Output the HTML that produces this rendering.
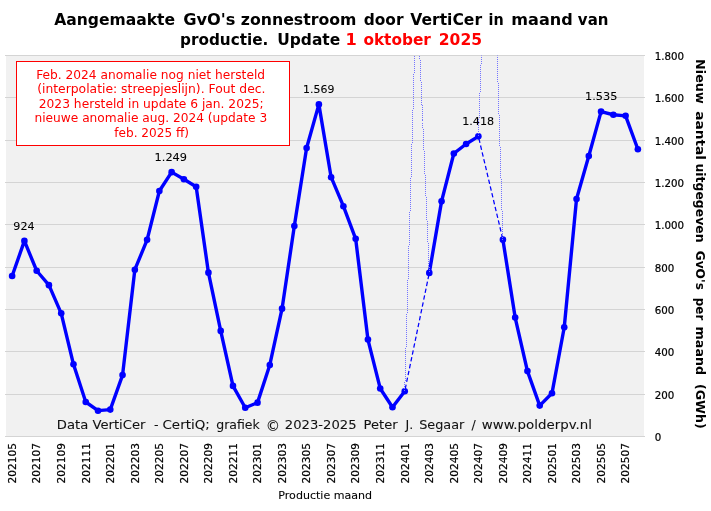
<!DOCTYPE html>
<html><head><meta charset="utf-8"><title>GvO zonnestroom</title><style>
html,body{margin:0;padding:0;background:#fff;}
body{width:711px;height:511px;overflow:hidden;}
svg{display:block;}
text{font-family:'DejaVu Sans', 'Liberation Sans', sans-serif;}
.s{stroke-width:0.3px;}
</style></head><body>
<svg width="711" height="511" viewBox="0 0 711 511">
<g id="chart">
<rect x="6" y="55" width="638" height="381" fill="#f1f1f1"/>
<line x1="5" x2="645" y1="436.5" y2="436.5" stroke="#d4d4d4" stroke-width="1"/>
<line x1="5" x2="645" y1="394.5" y2="394.5" stroke="#d4d4d4" stroke-width="1"/>
<line x1="5" x2="645" y1="351.5" y2="351.5" stroke="#d4d4d4" stroke-width="1"/>
<line x1="5" x2="645" y1="309.5" y2="309.5" stroke="#d4d4d4" stroke-width="1"/>
<line x1="5" x2="645" y1="267.5" y2="267.5" stroke="#d4d4d4" stroke-width="1"/>
<line x1="5" x2="645" y1="224.5" y2="224.5" stroke="#d4d4d4" stroke-width="1"/>
<line x1="5" x2="645" y1="182.5" y2="182.5" stroke="#d4d4d4" stroke-width="1"/>
<line x1="5" x2="645" y1="140.5" y2="140.5" stroke="#d4d4d4" stroke-width="1"/>
<line x1="5" x2="645" y1="97.5" y2="97.5" stroke="#d4d4d4" stroke-width="1"/>
<line x1="5" x2="645" y1="55.5" y2="55.5" stroke="#d4d4d4" stroke-width="1"/>
<defs><clipPath id="pc"><rect x="6.0" y="55.5" width="638.0" height="381.0"/></clipPath></defs>
<line x1="404.75" y1="391.20" x2="429.29" y2="272.88" stroke="#0000ff" stroke-width="1.25" stroke-dasharray="4.4,2.6" stroke-dashoffset="-2.4"/>
<line x1="478.37" y1="136.36" x2="502.90" y2="239.65" stroke="#0000ff" stroke-width="1.25" stroke-dasharray="4.4,2.6" stroke-dashoffset="-2.4"/>
<polyline points="12.13,276.06 24.40,240.92 36.67,270.76 48.94,285.16 61.21,313.31 73.48,364.32 85.75,402.00 98.02,410.68 110.29,409.62 122.56,375.12 134.83,269.71 147.10,239.86 159.37,190.97 171.63,172.13 183.90,179.32 196.17,186.73 208.44,272.67 220.71,330.88 232.98,385.91 245.25,407.71 257.52,402.63 269.79,364.96 282.06,308.65 294.33,226.10 306.60,148.00 318.87,104.39 331.13,177.21 343.40,206.21 355.67,238.80 367.94,339.56 380.21,388.45 392.48,407.29 404.75,391.20" fill="none" stroke="#0000ff" stroke-width="3.4" stroke-linejoin="round" stroke-linecap="round"/>
<polyline points="429.29,272.88 441.56,201.34 453.83,153.50 466.10,143.98 478.37,136.36" fill="none" stroke="#0000ff" stroke-width="3.4" stroke-linejoin="round" stroke-linecap="round"/>
<polyline points="502.90,239.65 515.17,317.54 527.44,371.10 539.71,405.60 551.98,393.32 564.25,327.28 576.52,199.01 588.79,156.04 601.06,111.59 613.33,114.77 625.60,115.82 637.87,149.27" fill="none" stroke="#0000ff" stroke-width="3.4" stroke-linejoin="round" stroke-linecap="round"/>
<circle cx="12.13" cy="276.06" r="3.3" fill="#0000ff"/>
<circle cx="24.40" cy="240.92" r="3.3" fill="#0000ff"/>
<circle cx="36.67" cy="270.76" r="3.3" fill="#0000ff"/>
<circle cx="48.94" cy="285.16" r="3.3" fill="#0000ff"/>
<circle cx="61.21" cy="313.31" r="3.3" fill="#0000ff"/>
<circle cx="73.48" cy="364.32" r="3.3" fill="#0000ff"/>
<circle cx="85.75" cy="402.00" r="3.3" fill="#0000ff"/>
<circle cx="98.02" cy="410.68" r="3.3" fill="#0000ff"/>
<circle cx="110.29" cy="409.62" r="3.3" fill="#0000ff"/>
<circle cx="122.56" cy="375.12" r="3.3" fill="#0000ff"/>
<circle cx="134.83" cy="269.71" r="3.3" fill="#0000ff"/>
<circle cx="147.10" cy="239.86" r="3.3" fill="#0000ff"/>
<circle cx="159.37" cy="190.97" r="3.3" fill="#0000ff"/>
<circle cx="171.63" cy="172.13" r="3.3" fill="#0000ff"/>
<circle cx="183.90" cy="179.32" r="3.3" fill="#0000ff"/>
<circle cx="196.17" cy="186.73" r="3.3" fill="#0000ff"/>
<circle cx="208.44" cy="272.67" r="3.3" fill="#0000ff"/>
<circle cx="220.71" cy="330.88" r="3.3" fill="#0000ff"/>
<circle cx="232.98" cy="385.91" r="3.3" fill="#0000ff"/>
<circle cx="245.25" cy="407.71" r="3.3" fill="#0000ff"/>
<circle cx="257.52" cy="402.63" r="3.3" fill="#0000ff"/>
<circle cx="269.79" cy="364.96" r="3.3" fill="#0000ff"/>
<circle cx="282.06" cy="308.65" r="3.3" fill="#0000ff"/>
<circle cx="294.33" cy="226.10" r="3.3" fill="#0000ff"/>
<circle cx="306.60" cy="148.00" r="3.3" fill="#0000ff"/>
<circle cx="318.87" cy="104.39" r="3.3" fill="#0000ff"/>
<circle cx="331.13" cy="177.21" r="3.3" fill="#0000ff"/>
<circle cx="343.40" cy="206.21" r="3.3" fill="#0000ff"/>
<circle cx="355.67" cy="238.80" r="3.3" fill="#0000ff"/>
<circle cx="367.94" cy="339.56" r="3.3" fill="#0000ff"/>
<circle cx="380.21" cy="388.45" r="3.3" fill="#0000ff"/>
<circle cx="392.48" cy="407.29" r="3.3" fill="#0000ff"/>
<circle cx="404.75" cy="391.20" r="3.3" fill="#0000ff"/>
<circle cx="429.29" cy="272.88" r="3.3" fill="#0000ff"/>
<circle cx="441.56" cy="201.34" r="3.3" fill="#0000ff"/>
<circle cx="453.83" cy="153.50" r="3.3" fill="#0000ff"/>
<circle cx="466.10" cy="143.98" r="3.3" fill="#0000ff"/>
<circle cx="478.37" cy="136.36" r="3.3" fill="#0000ff"/>
<circle cx="502.90" cy="239.65" r="3.3" fill="#0000ff"/>
<circle cx="515.17" cy="317.54" r="3.3" fill="#0000ff"/>
<circle cx="527.44" cy="371.10" r="3.3" fill="#0000ff"/>
<circle cx="539.71" cy="405.60" r="3.3" fill="#0000ff"/>
<circle cx="551.98" cy="393.32" r="3.3" fill="#0000ff"/>
<circle cx="564.25" cy="327.28" r="3.3" fill="#0000ff"/>
<circle cx="576.52" cy="199.01" r="3.3" fill="#0000ff"/>
<circle cx="588.79" cy="156.04" r="3.3" fill="#0000ff"/>
<circle cx="601.06" cy="111.59" r="3.3" fill="#0000ff"/>
<circle cx="613.33" cy="114.77" r="3.3" fill="#0000ff"/>
<circle cx="625.60" cy="115.82" r="3.3" fill="#0000ff"/>
<circle cx="637.87" cy="149.27" r="3.3" fill="#0000ff"/>
<rect x="16.5" y="61.5" width="273" height="84" fill="#fff" stroke="#ff0000" stroke-width="1"/>
</g>
<text id="ta0" x="54.20" y="25.00" font-size="16.200" font-weight="bold" fill="#000" textLength="120.93" lengthAdjust="spacingAndGlyphs">Aangemaakte</text>
<text id="ta1" x="183.19" y="25.00" font-size="16.200" font-weight="bold" fill="#000" textLength="52.23" lengthAdjust="spacingAndGlyphs">GvO's</text>
<text id="ta2" x="240.82" y="25.00" font-size="16.200" font-weight="bold" fill="#000" textLength="115.60" lengthAdjust="spacingAndGlyphs">zonnestroom</text>
<text id="ta3" x="363.72" y="25.00" font-size="16.200" font-weight="bold" fill="#000" textLength="39.80" lengthAdjust="spacingAndGlyphs">door</text>
<text id="ta4" x="410.31" y="25.00" font-size="16.200" font-weight="bold" fill="#000" textLength="71.77" lengthAdjust="spacingAndGlyphs">VertiCer</text>
<text id="ta5" x="488.58" y="25.00" font-size="16.200" font-weight="bold" fill="#000" textLength="15.16" lengthAdjust="spacingAndGlyphs">in</text>
<text id="ta6" x="511.32" y="25.00" font-size="16.200" font-weight="bold" fill="#000" textLength="61.42" lengthAdjust="spacingAndGlyphs">maand</text>
<text id="ta7" x="577.87" y="25.00" font-size="16.200" font-weight="bold" fill="#000" textLength="30.59" lengthAdjust="spacingAndGlyphs">van</text>
<text id="tb0" x="180.06" y="44.70" font-size="16.200" font-weight="bold" fill="#000" textLength="88.31" lengthAdjust="spacingAndGlyphs">productie.</text>
<text id="tb1" x="277.15" y="44.70" font-size="16.200" font-weight="bold" fill="#000" textLength="63.10" lengthAdjust="spacingAndGlyphs">Update</text>
<text id="tb2" x="345.60" y="44.70" font-size="16.200" font-weight="bold" fill="#ff0000" textLength="11.27" lengthAdjust="spacingAndGlyphs">1</text>
<text id="tb3" x="363.40" y="44.70" font-size="16.200" font-weight="bold" fill="#ff0000" textLength="67.51" lengthAdjust="spacingAndGlyphs">oktober</text>
<text id="tb4" x="438.81" y="44.70" font-size="16.200" font-weight="bold" fill="#ff0000" textLength="43.20" lengthAdjust="spacingAndGlyphs">2025</text>
<text id="b0" x="36.17" y="78.60" font-size="11.800" fill="#ff0000" textLength="228.92" lengthAdjust="spacingAndGlyphs">Feb. 2024 anomalie nog niet hersteld</text>
<text id="b1" x="37.17" y="93.40" font-size="11.800" fill="#ff0000" textLength="228.35" lengthAdjust="spacingAndGlyphs">(interpolatie: streepjeslijn). Fout dec.</text>
<text id="b2" x="38.78" y="107.80" font-size="11.800" fill="#ff0000" textLength="224.95" lengthAdjust="spacingAndGlyphs">2023 hersteld in update 6 jan. 2025;</text>
<text id="b3" x="34.48" y="122.30" font-size="11.800" fill="#ff0000" textLength="232.69" lengthAdjust="spacingAndGlyphs">nieuwe anomalie aug. 2024 (update 3</text>
<text id="b4" x="114.28" y="136.60" font-size="11.800" fill="#ff0000" textLength="74.76" lengthAdjust="spacingAndGlyphs">feb. 2025 ff)</text>
<text id="f0" x="56.86" y="428.70" font-size="12.600" stroke="#111111" stroke-width="0.08" fill="#111111" textLength="88.61" lengthAdjust="spacingAndGlyphs">Data VertiCer</text>
<text id="f1" x="153.90" y="428.70" font-size="12.600" stroke="#111111" stroke-width="0.08" fill="#111111" textLength="4.55" lengthAdjust="spacingAndGlyphs">-</text>
<text id="f2" x="162.51" y="428.70" font-size="12.600" stroke="#111111" stroke-width="0.08" fill="#111111" textLength="47.24" lengthAdjust="spacingAndGlyphs">CertiQ;</text>
<text id="f3" x="216.19" y="428.70" font-size="12.600" stroke="#111111" stroke-width="0.08" fill="#111111" textLength="43.59" lengthAdjust="spacingAndGlyphs">grafiek</text>
<text id="f4" x="265.80" y="431.00" font-size="14.300" stroke="#111111" stroke-width="0.08" fill="#111111" textLength="14.30" lengthAdjust="spacingAndGlyphs">©</text>
<text id="f5" x="284.86" y="428.70" font-size="12.600" stroke="#111111" stroke-width="0.08" fill="#111111" textLength="71.76" lengthAdjust="spacingAndGlyphs">2023-2025</text>
<text id="f6" x="363.55" y="428.70" font-size="12.600" stroke="#111111" stroke-width="0.08" fill="#111111" textLength="34.02" lengthAdjust="spacingAndGlyphs">Peter</text>
<text id="f7" x="405.60" y="428.70" font-size="12.600" stroke="#111111" stroke-width="0.08" fill="#111111" textLength="7.72" lengthAdjust="spacingAndGlyphs">J.</text>
<text id="f8" x="419.16" y="428.70" font-size="12.600" stroke="#111111" stroke-width="0.08" fill="#111111" textLength="45.21" lengthAdjust="spacingAndGlyphs">Segaar</text>
<text id="f9" x="471.40" y="428.70" font-size="12.600" stroke="#111111" stroke-width="0.08" fill="#111111" textLength="4.25" lengthAdjust="spacingAndGlyphs">/</text>
<text id="f10" x="481.77" y="428.70" font-size="12.600" stroke="#111111" stroke-width="0.08" fill="#111111" textLength="110.22" lengthAdjust="spacingAndGlyphs">www.polderpv.nl</text>
<text id="d1" x="13.38" y="229.70" font-size="11.000" stroke="#000" stroke-width="0.08" fill="#000" textLength="21.23" lengthAdjust="spacingAndGlyphs">924</text>
<text id="d13" x="154.60" y="161.00" font-size="11.000" stroke="#000" stroke-width="0.08" fill="#000" textLength="32.46" lengthAdjust="spacingAndGlyphs">1.249</text>
<text id="d25" x="303.05" y="93.10" font-size="11.000" stroke="#000" stroke-width="0.08" fill="#000" textLength="31.31" lengthAdjust="spacingAndGlyphs">1.569</text>
<text id="d38" x="462.17" y="124.90" font-size="11.000" stroke="#000" stroke-width="0.08" fill="#000" textLength="31.92" lengthAdjust="spacingAndGlyphs">1.418</text>
<text id="d48" x="585.03" y="99.90" font-size="11.000" stroke="#000" stroke-width="0.08" fill="#000" textLength="32.35" lengthAdjust="spacingAndGlyphs">1.535</text>
<text id="y0" x="654.73" y="440.80" font-size="10.287" stroke="#000" stroke-width="0.22" fill="#000">0</text>
<text id="y1" x="654.73" y="398.80" font-size="10.287" stroke="#000" stroke-width="0.22" fill="#000">200</text>
<text id="y2" x="654.73" y="355.80" font-size="10.287" stroke="#000" stroke-width="0.22" fill="#000">400</text>
<text id="y3" x="654.73" y="313.80" font-size="10.287" stroke="#000" stroke-width="0.22" fill="#000">600</text>
<text id="y4" x="654.73" y="271.80" font-size="10.287" stroke="#000" stroke-width="0.22" fill="#000">800</text>
<text id="y5" x="654.73" y="228.80" font-size="10.287" stroke="#000" stroke-width="0.22" fill="#000">1.000</text>
<text id="y6" x="654.73" y="186.80" font-size="10.287" stroke="#000" stroke-width="0.22" fill="#000">1.200</text>
<text id="y7" x="654.73" y="144.80" font-size="10.287" stroke="#000" stroke-width="0.22" fill="#000">1.400</text>
<text id="y8" x="654.73" y="101.80" font-size="10.287" stroke="#000" stroke-width="0.22" fill="#000">1.600</text>
<text id="y9" x="654.73" y="59.80" font-size="10.287" stroke="#000" stroke-width="0.22" fill="#000">1.800</text>
<text id="x0" transform="translate(15.93,483.48) rotate(-90)" font-size="10.599" stroke="#000" stroke-width="0.22" fill="#000">202105</text>
<text id="x2" transform="translate(40.47,483.48) rotate(-90)" font-size="10.599" stroke="#000" stroke-width="0.22" fill="#000">202107</text>
<text id="x4" transform="translate(65.01,483.48) rotate(-90)" font-size="10.599" stroke="#000" stroke-width="0.22" fill="#000">202109</text>
<text id="x6" transform="translate(89.55,483.48) rotate(-90)" font-size="10.599" stroke="#000" stroke-width="0.22" fill="#000">202111</text>
<text id="x8" transform="translate(114.09,483.48) rotate(-90)" font-size="10.599" stroke="#000" stroke-width="0.22" fill="#000">202201</text>
<text id="x10" transform="translate(138.63,483.48) rotate(-90)" font-size="10.599" stroke="#000" stroke-width="0.22" fill="#000">202203</text>
<text id="x12" transform="translate(163.17,483.48) rotate(-90)" font-size="10.599" stroke="#000" stroke-width="0.22" fill="#000">202205</text>
<text id="x14" transform="translate(187.70,483.48) rotate(-90)" font-size="10.599" stroke="#000" stroke-width="0.22" fill="#000">202207</text>
<text id="x16" transform="translate(212.24,483.48) rotate(-90)" font-size="10.599" stroke="#000" stroke-width="0.22" fill="#000">202209</text>
<text id="x18" transform="translate(236.78,483.48) rotate(-90)" font-size="10.599" stroke="#000" stroke-width="0.22" fill="#000">202211</text>
<text id="x20" transform="translate(261.32,483.48) rotate(-90)" font-size="10.599" stroke="#000" stroke-width="0.22" fill="#000">202301</text>
<text id="x22" transform="translate(285.86,483.48) rotate(-90)" font-size="10.599" stroke="#000" stroke-width="0.22" fill="#000">202303</text>
<text id="x24" transform="translate(310.40,483.48) rotate(-90)" font-size="10.599" stroke="#000" stroke-width="0.22" fill="#000">202305</text>
<text id="x26" transform="translate(334.93,483.48) rotate(-90)" font-size="10.599" stroke="#000" stroke-width="0.22" fill="#000">202307</text>
<text id="x28" transform="translate(359.47,483.48) rotate(-90)" font-size="10.599" stroke="#000" stroke-width="0.22" fill="#000">202309</text>
<text id="x30" transform="translate(384.01,483.48) rotate(-90)" font-size="10.599" stroke="#000" stroke-width="0.22" fill="#000">202311</text>
<text id="x32" transform="translate(408.55,483.48) rotate(-90)" font-size="10.599" stroke="#000" stroke-width="0.22" fill="#000">202401</text>
<text id="x34" transform="translate(433.09,483.48) rotate(-90)" font-size="10.599" stroke="#000" stroke-width="0.22" fill="#000">202403</text>
<text id="x36" transform="translate(457.63,483.48) rotate(-90)" font-size="10.599" stroke="#000" stroke-width="0.22" fill="#000">202405</text>
<text id="x38" transform="translate(482.17,483.48) rotate(-90)" font-size="10.599" stroke="#000" stroke-width="0.22" fill="#000">202407</text>
<text id="x40" transform="translate(506.70,483.48) rotate(-90)" font-size="10.599" stroke="#000" stroke-width="0.22" fill="#000">202409</text>
<text id="x42" transform="translate(531.24,483.48) rotate(-90)" font-size="10.599" stroke="#000" stroke-width="0.22" fill="#000">202411</text>
<text id="x44" transform="translate(555.78,483.48) rotate(-90)" font-size="10.599" stroke="#000" stroke-width="0.22" fill="#000">202501</text>
<text id="x46" transform="translate(580.32,483.48) rotate(-90)" font-size="10.599" stroke="#000" stroke-width="0.22" fill="#000">202503</text>
<text id="x48" transform="translate(604.86,483.48) rotate(-90)" font-size="10.599" stroke="#000" stroke-width="0.22" fill="#000">202505</text>
<text id="x50" transform="translate(629.40,483.48) rotate(-90)" font-size="10.599" stroke="#000" stroke-width="0.22" fill="#000">202507</text>
<text id="xt" x="278.34" y="498.60" font-size="11.075" stroke="#000" stroke-width="0.08" fill="#000">Productie maand</text>
<text id="yw0" transform="translate(696.00,59.12) rotate(90)" font-size="12.900" font-weight="bold" fill="#000" textLength="44.63" lengthAdjust="spacingAndGlyphs">Nieuw</text>
<text id="yw1" transform="translate(696.00,111.18) rotate(90)" font-size="12.900" font-weight="bold" fill="#000" textLength="48.72" lengthAdjust="spacingAndGlyphs">aantal</text>
<text id="yw2" transform="translate(696.00,163.52) rotate(90)" font-size="12.900" font-weight="bold" fill="#000" textLength="79.03" lengthAdjust="spacingAndGlyphs">uitgegeven</text>
<text id="yw3" transform="translate(696.00,250.73) rotate(90)" font-size="12.900" font-weight="bold" fill="#000" textLength="39.13" lengthAdjust="spacingAndGlyphs">GvO's</text>
<text id="yw4" transform="translate(696.00,297.75) rotate(90)" font-size="12.900" font-weight="bold" fill="#000" textLength="22.52" lengthAdjust="spacingAndGlyphs">per</text>
<text id="yw5" transform="translate(696.00,326.59) rotate(90)" font-size="12.900" font-weight="bold" fill="#000" textLength="48.65" lengthAdjust="spacingAndGlyphs">maand</text>
<text id="yw6" transform="translate(696.00,383.91) rotate(90)" font-size="12.900" font-weight="bold" fill="#000" textLength="44.75" lengthAdjust="spacingAndGlyphs">(GWh)</text>
<g id="dots"><polyline clip-path="url(#pc)" points="404.75,391.20 416.70,-17.50 429.29,272.88" fill="none" stroke="#7474ff" stroke-width="1" stroke-dasharray="1,1" shape-rendering="crispEdges"/><polyline clip-path="url(#pc)" points="478.37,136.36 490.00,-176.00 502.90,239.65" fill="none" stroke="#7474ff" stroke-width="1" stroke-dasharray="1,1" shape-rendering="crispEdges"/></g>
</svg></body></html>
